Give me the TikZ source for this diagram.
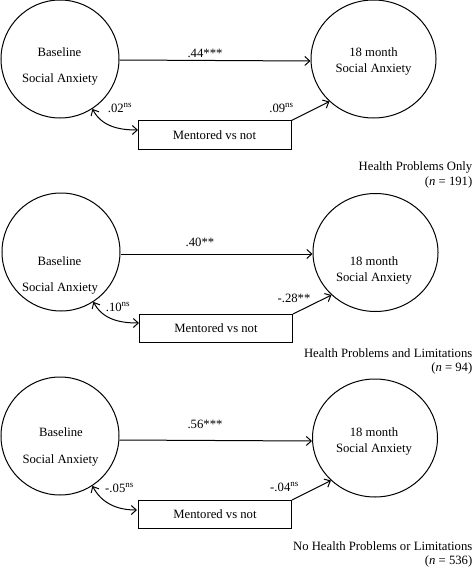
\documentclass[tikz,border=0pt]{standalone}
\usepackage{fontspec}
\setmainfont{Liberation Serif}
\usetikzlibrary{arrows.meta,shapes.geometric}
\begin{document}
\begin{tikzpicture}[x=1pt,y=-1pt,
  every node/.style={font=\fontsize{12.7}{15}\selectfont, inner sep=0pt},
  lat/.style={draw, line width=1pt, ellipse, minimum width=#1},
  latl/.style={lat=118pt, minimum height=118pt},
  latr/.style={lat=125pt, minimum height=118pt},
  obs/.style={draw, line width=1pt, minimum width=153pt, minimum height=28pt},
  path/.style={line width=1pt, -{Straight Barb[length=5pt,width=9pt]}},
  cov/.style={line width=1pt, {Straight Barb[length=5pt,width=9pt]}-{Straight Barb[length=5pt,width=9pt]}}]
\useasboundingbox (0,0) rectangle (473,567);

% ---------- Panel 1 ----------
\node[latl] (L1) at (60,59) {};
\node[latr] (R1) at (373.5,59) {};
\node[obs] (M1) at (214.5,135) {Mentored vs not};
\node (L1a) at (59.5,52) {Baseline};
\node (L1b) at (60,79) {Social Anxiety};
\node (R1a) at (373.5,52) {18 month};
\node (R1b) at (373.5,69) {Social Anxiety};
\coordinate (M1w) at (138,130);
\draw[path] (L1.east |- 0,60) -- (R1.west |- 0,61);
\draw[path] (M1.north east) -- (R1.-136);
\draw[cov] (L1.-57) to[out=-62,in=180] (M1w);
\node (c1a) at (205,53) {.44***};
\node (c1b) at (120,108) {.02\textsuperscript{ns}};
\node (c1c) at (281.5,108) {.09\textsuperscript{ns}};
\node[anchor=east] (g1a) at (472.5,167) {Health Problems Only};
\node[anchor=east] (g1b) at (472.5,182) {(\textit{n} = 191)};

% ---------- Panel 2 ----------
\node[latl] (L2) at (61,252) {};
\node[latr] (R2) at (375.5,252.5) {};
\node[obs] (M2) at (216,328.5) {Mentored vs not};
\node (L2a) at (59.5,261) {Baseline};
\node (L2b) at (60,288) {Social Anxiety};
\node (R2a) at (374,261) {18 month};
\node (R2b) at (374,278) {Social Anxiety};
\coordinate (M2w) at (139,323);
\draw[path] (L2.east |- 0,254) -- (R2.west |- 0,254);
\draw[path] (M2.north east) -- (R2.-136);
\draw[cov] (L2.-57) to[out=-62,in=180] (M2w);
\node (c2a) at (200,242) {.40**};
\node (c2b) at (118,307) {.10\textsuperscript{ns}};
\node (c2c) at (294,298) {-.28**};
\node[anchor=east] (g2a) at (472.5,353) {Health Problems and Limitations};
\node[anchor=east] (g2b) at (472.5,368) {(\textit{n} = 94)};

% ---------- Panel 3 ----------
\node[latl] (L3) at (60,436) {};
\node[latr] (R3) at (375,438) {};
\node[obs] (M3) at (215,514.5) {Mentored vs not};
\node (L3a) at (61,432) {Baseline};
\node (L3b) at (60.5,460) {Social Anxiety};
\node (R3a) at (374,432) {18 month};
\node (R3b) at (374,449) {Social Anxiety};
\coordinate (M3w) at (137,510);
\draw[path] (L3.east |- 0,440) -- (R3.west |- 0,441);
\draw[path] (M3.north east) -- (R3.-136);
\draw[cov] (L3.-57) to[out=-62,in=180] (M3w);
\node (c3a) at (205,424) {.56***};
\node (c3b) at (119.5,488) {-.05\textsuperscript{ns}};
\node (c3c) at (284.5,487) {-.04\textsuperscript{ns}};
\node[anchor=east] (g3a) at (472.5,546.5) {No Health Problems or Limitations};
\node[anchor=east] (g3b) at (472.5,561) {(\textit{n} = 536)};
\end{tikzpicture}
\end{document}
